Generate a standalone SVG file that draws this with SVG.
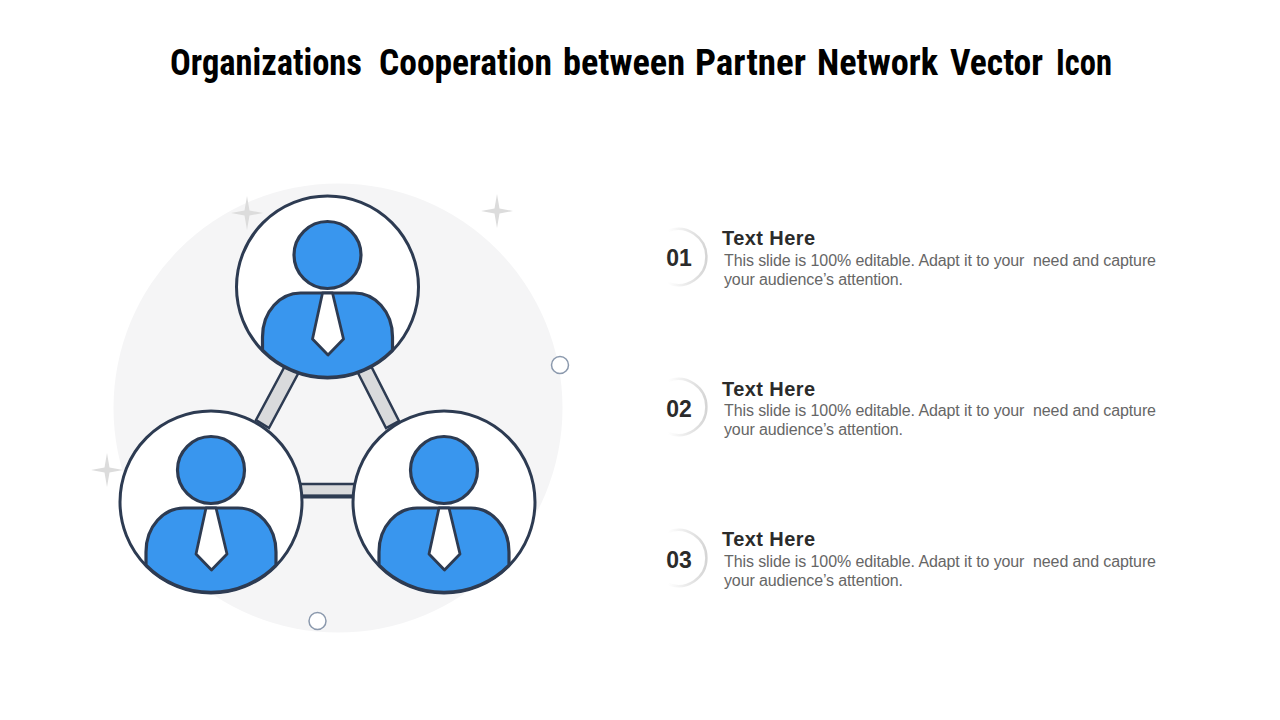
<svg xmlns="http://www.w3.org/2000/svg" width="1280" height="720" viewBox="0 0 1280 720">
<style>
.title{font:700 37px "Roboto Condensed","Liberation Sans Narrow","Liberation Sans",sans-serif;fill:#000}
.head{font:700 20px "Liberation Sans",Arial,sans-serif;fill:#2b2b2b}
.body{font:400 16px "Liberation Sans",Arial,sans-serif;fill:#666;white-space:pre}
.num{font:700 23px "Liberation Sans",Arial,sans-serif;fill:#2b2b2b;text-anchor:middle}
.ring{fill:#fff;stroke:#2d3b52;stroke-width:3}
.blue{fill:#3996ee;stroke:#2d3b52;stroke-width:3.2;stroke-linejoin:round}
.tie{fill:#fff;stroke:#2d3b52;stroke-width:2.8;stroke-linejoin:round}
.strut{fill:#d9dadc;stroke:#2d3b52;stroke-width:2.5}
.edge{fill:none;stroke:#2d3b52;stroke-width:4}
.star{fill:#dcdcdc}
.dot{fill:#fff;stroke:#8b99ad;stroke-width:1.5}
.arc{fill:none;stroke:url(#fade);stroke-width:2.5}
</style>
<defs>
<linearGradient id="fade" gradientUnits="userSpaceOnUse" x1="668" y1="0" x2="707" y2="0"><stop offset="0" stop-color="#fff"/><stop offset="1" stop-color="#d4d4d4"/></linearGradient>
<g id="person">
<circle class="ring" r="91"/>
<circle class="blue" cy="-32" r="33.5"/>
<path class="blue" d="M-65 63V50C-65 24-47 6-27 6H27C47 6 65 24 65 50V63A91 91 0 0 1-65 63Z"/>
<path class="tie" d="M-5 6H5L16 52L0.500 68L-15 52Z"/>
</g>
<path id="spark" d="M0-17L2.500-2.500L16 0L2.500 2.500L0 17L-2.500 2.500L-16 0L-2.500-2.500Z"/>
</defs>
<rect width="1280" height="720" fill="#fff"/>
<g id="title">
<text class="title" x="170" y="75" textLength="192" lengthAdjust="spacingAndGlyphs">Organizations</text>
<text class="title" x="379" y="75" textLength="173" lengthAdjust="spacingAndGlyphs">Cooperation</text>
<text class="title" x="563" y="75" textLength="122" lengthAdjust="spacingAndGlyphs">between</text>
<text class="title" x="695" y="75" textLength="111" lengthAdjust="spacingAndGlyphs">Partner</text>
<text class="title" x="817" y="75" textLength="121" lengthAdjust="spacingAndGlyphs">Network</text>
<text class="title" x="950" y="75" textLength="93" lengthAdjust="spacingAndGlyphs">Vector</text>
<text class="title" x="1056" y="75" textLength="56" lengthAdjust="spacingAndGlyphs">Icon</text>
</g>
<circle cx="338" cy="408" r="224.500" fill="#f5f5f6"/>
<use href="#spark" class="star" x="247" y="213"/>
<use href="#spark" class="star" x="497" y="211"/>
<use href="#spark" class="star" x="107" y="470"/>
<circle class="dot" cx="560" cy="365" r="8.500"/>
<circle class="dot" cx="317.500" cy="621" r="8.500"/>
<g id="connectors">
<path class="strut" d="M286 364L256 420L269 428L299 372Z"/>
<path class="strut" d="M357 371L386 428L399 421L370 364Z"/>
<rect class="strut" x="295" y="484" width="65" height="12"/>
<path class="edge" d="M295 496.500H360"/>
</g>
<g id="node-top"><use href="#person" x="327.500" y="287"/></g>
<g id="node-left"><use href="#person" x="211" y="502"/></g>
<g id="node-right"><use href="#person" x="444" y="502"/></g>
<g id="item-1">
<path class="arc" d="M668 231A28 28 0 1 1 668 283"/>
<text class="num" x="679" y="266">01</text>
<text class="head" x="722" y="245" textLength="93">Text Here</text>
<text class="body" x="724" y="266" textLength="432">This slide is 100% editable. Adapt it to your  need and capture</text>
<text class="body" x="724" y="285" textLength="179">your audience’s attention.</text>
</g>
<g id="item-2">
<path class="arc" d="M668 381A28 28 0 1 1 668 433"/>
<text class="num" x="679" y="417">02</text>
<text class="head" x="722" y="396" textLength="93">Text Here</text>
<text class="body" x="724" y="416" textLength="432">This slide is 100% editable. Adapt it to your  need and capture</text>
<text class="body" x="724" y="435" textLength="179">your audience’s attention.</text>
</g>
<g id="item-3">
<path class="arc" d="M668 532A28 28 0 1 1 668 584"/>
<text class="num" x="679" y="568">03</text>
<text class="head" x="722" y="546" textLength="93">Text Here</text>
<text class="body" x="724" y="567" textLength="432">This slide is 100% editable. Adapt it to your  need and capture</text>
<text class="body" x="724" y="586" textLength="179">your audience’s attention.</text>
</g>
</svg>
